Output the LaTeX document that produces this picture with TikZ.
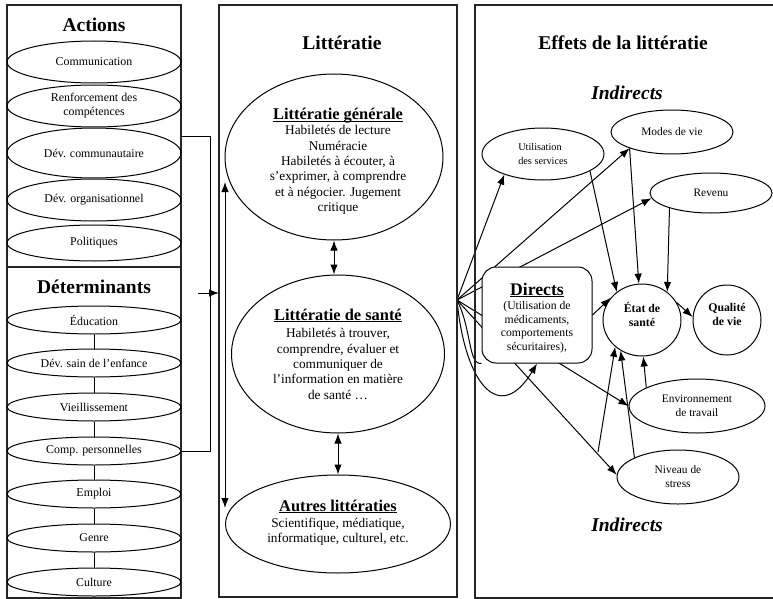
\documentclass[tikz,border=0pt]{standalone}
\usepackage{fontspec}
\setmainfont{Liberation Serif}
\usetikzlibrary{shapes.geometric,arrows.meta,calc}
\pgfdeclarelayer{bg}
\pgfsetlayers{bg,main}
\newcommand{\fsz}[2]{\fontsize{#1}{#2}\selectfont}
\newcommand{\myul}[1]{\setbox0\hbox{#1}\rlap{\rule[-2pt]{\wd0}{0.9pt}}\box0}
\begin{document}
\begin{tikzpicture}[x=1pt,y=-1pt,
  panel/.style={draw=black!85,line width=1.3pt},
  ell/.style={ellipse,draw,line width=1pt,inner sep=0pt},
  lbl/.style={align=center,inner sep=0pt,font=\fsz{11.4}{14}},
  lell/.style={ell,align=center,font=\fsz{11.9}{14},minimum width=174pt},
  ttl/.style={inner sep=0pt,font=\bfseries\fsz{19.5}{22}},
  ind/.style={inner sep=0pt,font=\bfseries\itshape\fsz{19.5}{22}},
  mt/.style={inner sep=0pt,anchor=base,font=\bfseries\fsz{16.4}{18}},
  mb/.style={inner sep=0pt,align=center,font=\fsz{13.3}{15.3}},
  conn/.style={line width=1pt},
  arr/.style={conn,-{Latex[length=10pt,width=7.5pt]}},
  darr/.style={conn,{Latex[length=10pt,width=7.5pt]}-{Latex[length=10pt,width=7.5pt]}},
  dirbox/.style={draw,line width=1pt,rounded corners=14pt,fill=white,minimum width=110pt,minimum height=96pt,inner sep=0pt}
]
\useasboundingbox (0,0) rectangle (773,599);

% panels
\draw[panel] (7,5) rectangle (181,598);
\draw[panel] (7,267) -- (181,267);
\draw[panel] (219,5) rectangle (457,597);
\draw[panel] (780,5) -- (475,5) -- (475,598) -- (780,598);

% titles
\node[ttl] (tact) at (94,25) {Actions};
\node[ttl] (tdet) at (94,287) {Déterminants};
\node[ttl] (tlit) at (342,43) {Littératie};
\node[ttl] (teff) at (623,43) {Effets de la littératie};
\node[ind] (ind1) at (627,93) {Indirects};
\node[ind] (ind2) at (627,525) {Indirects};

% actions
\node[lell,minimum height=42pt] (a1) at (94,62) {Communication};
\node[lell,minimum height=42pt] (a2) at (94,106) {Renforcement des\\compétences};
\node[lell,minimum height=50pt] (a3) at (94,153) {Dév. communautaire};
\node[lell,minimum height=42pt] (a4) at (94,200) {Dév. organisationnel};
\node[lell,minimum height=36pt] (a5) at (94,243) {Politiques};

% determinants
\node[lell,minimum height=28pt] (d1) at (94,320) {Éducation};
\node[lell,minimum height=28pt] (d2) at (94,363) {Dév. sain de l’enfance};
\node[lell,minimum height=28pt] (d3) at (94,407) {Vieillissement};
\node[lell,minimum height=28pt] (d4) at (94,451) {Comp. personnelles};
\node[lell,minimum height=28pt] (d5) at (94,494) {Emploi};
\node[lell,minimum height=28pt] (d6) at (94,538) {Genre};
\node[lell,minimum height=28pt] (d7) at (94,582) {Culture};
\foreach \a/\b in {d1/d2,d2/d3,d3/d4,d4/d5,d5/d6,d6/d7}
  \draw[conn] (\a) -- (\b);

% bracket and arrow into middle panel
\coordinate (bk1) at (181,136);
\coordinate (ba) at (198,293);
\coordinate (mw) at (219,293);
\draw[conn] (bk1) -- (210,136) -- (210,451) -- (d4.east);
\draw[arr] (ba) -- (mw);

% middle ellipses
\node[ell,minimum width=218pt,minimum height=166pt] (lg) at (334,157) {};
\node[ell,minimum width=213pt,minimum height=158pt] (ls) at (338,354) {};
\node[ell,minimum width=225pt,minimum height=98pt] (ao) at (338,524) {};
\node[mt] (lgt) at (338,120) {\myul{Littératie générale}};
\node[mb] (lgb) at (338,170) {Habiletés de lecture\\Numéracie\\Habiletés à écouter, à\\s’exprimer, à comprendre\\et à négocier. Jugement\\critique};
\node[mt] (lst) at (338,320) {\myul{Littératie de santé}};
\node[mb] (lsb) at (338,364) {Habiletés à trouver,\\comprendre, évaluer et\\communiquer de\\l’information en matière\\de santé …};
\node[mt] (aot) at (338,511) {\myul{Autres littératies}};
\node[mb] (aob) at (338,532) {Scientifique, médiatique,\\informatique, culturel, etc.};

\draw[darr] (lg.south) -- (lg.south |- ls.north);
\draw[darr] (ls.south) -- (ls.south |- ao.north);
\coordinate (vt) at (225,182);
\coordinate (vb) at (225,508);
\draw[darr] (vt) -- (vb);

% right panel nodes
\node[ell,lbl,align=left,font=\fsz{10.3}{14},minimum width=122pt,minimum height=52pt] (us) at (543,154) {Utilisation\\des services};
\node[ell,lbl,minimum width=122pt,minimum height=44pt] (mv) at (672,132) {Modes de vie};
\node[ell,lbl,minimum width=122pt,minimum height=40pt] (rv) at (711,193) {Revenu};
\node[dirbox] (dir) at (537,315) {};
\node[inner sep=0pt,anchor=base,font=\bfseries\fsz{17.7}{20}] (dirt) at (537,295) {\myul{Directs}};
\node[inner sep=0pt,align=center,font=\fsz{11.7}{13.5}] (dirb) at (537,327) {(Utilisation de\\médicaments,\\comportements\\sécuritaires),};
\node[ell,minimum width=78pt,minimum height=72pt] (es) at (642,320) {};
\node[inner sep=0pt,align=center,font=\bfseries\fsz{11.8}{14}] (est) at (642,314) {État de\\santé};
\node[ell,minimum width=68pt,minimum height=70pt] (qv) at (727,320) {};
\node[inner sep=0pt,align=center,font=\bfseries\fsz{11.8}{14}] (qvt) at (727,314) {Qualité\\de vie};
\node[ell,lbl,minimum width=136pt,minimum height=54pt] (env) at (697,406) {Environnement\\de travail};
\node[ell,lbl,minimum width=122pt,minimum height=54pt] (ns) at (678,477) {Niveau de\\stress};

% fan from middle panel (behind Directs box)
\coordinate (P) at (457,300);
\begin{pgfonlayer}{bg}
\draw[arr] (P) -- (us.208);
\draw[arr] (P) -- (mv.201);
\draw[arr] (P) -- (rv.185);
\draw[arr] (P) -- (env.west);
\draw[arr] (P) -- (ns.178);
\draw[conn] (P) .. controls (472,330) and (468,365) .. (dir.south west);
\draw[arr] (P) .. controls (465,385) and (500,425) .. (dir.south);
\end{pgfonlayer}

% effects on health status
\draw[arr] (us.-20) -- (es.132);
\draw[arr] (mv.201) -- (es.95);
\draw[arr] (rv.200) -- (es.48);
\draw[arr] (dir.east) -- (es.145);
\draw[arr] (es.27) -- (qv.175);
\draw[arr] (env.160) -- (es.-88);
\coordinate (nf) at (598,452);
\draw[arr] (nf) -- (es.225);
\draw[arr] (ns.156) -- (es.235);
\end{tikzpicture}
\end{document}
